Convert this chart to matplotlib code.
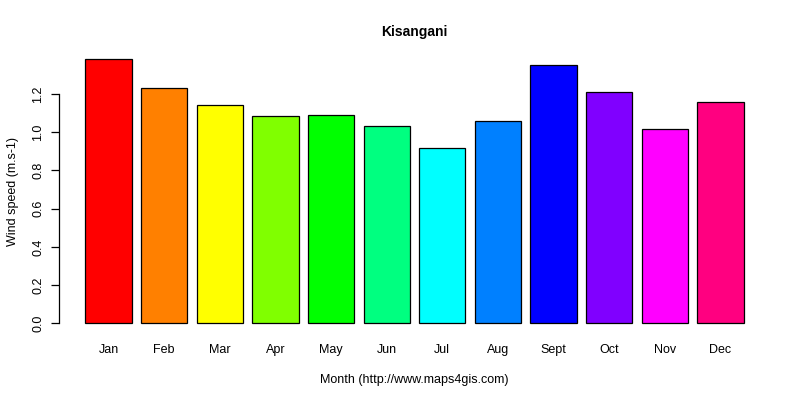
import matplotlib
matplotlib.use("Agg")
import matplotlib.pyplot as plt

months = ["Jan", "Feb", "Mar", "Apr", "May", "Jun", "Jul", "Aug", "Sept", "Oct", "Nov", "Dec"]
wind = [1.381, 1.233, 1.142, 1.085, 1.090, 1.031, 0.916, 1.057, 1.350, 1.209, 1.015, 1.156]
colors = ["#FF0000", "#FF8000", "#FFFF00", "#80FF00", "#00FF00", "#00FF80",
          "#00FFFF", "#0080FF", "#0000FF", "#8000FF", "#FF00FF", "#FF0080"]
yticks = [0.0, 0.2, 0.4, 0.6, 0.8, 1.0, 1.2]
ytick_labels = ["0.0", "0.2", "0.4", "0.6", "0.8", "1.0", "1.2"]

plt.rcParams['font.family'] = ['Liberation Sans', 'DejaVu Sans']

fig = plt.figure(figsize=(8, 4), dpi=100)
ax = fig.add_axes([59/800, (400-333.9)/400, 711/800, (333.9-48.9)/400])

# R barplot geometry: width 1, space 0.2
centers = [0.2 + 0.5 + i * 1.2 for i in range(len(months))]
ax.bar(centers, wind, width=1.0, color=colors, edgecolor="black", linewidth=0.9)

xmin, xmax = 0.2, 0.2 + 1.2 * len(months) - 0.2
ext = 0.04 * (xmax - xmin)
ax.set_xlim(xmin - ext, xmax + ext)
ymax = max(wind)
ax.set_ylim(-0.04 * ymax, ymax * 1.04)

for s in ["top", "right", "bottom"]:
    ax.spines[s].set_visible(False)
ax.spines["left"].set_bounds(0, 1.2)
ax.spines["left"].set_linewidth(0.9)

ax.set_yticks(yticks)
ax.set_yticklabels(ytick_labels, rotation=90, va="center", fontsize=9)
ax.tick_params(axis="y", length=5.8, width=0.9, pad=5)

ax.set_xticks(centers)
ax.set_xticklabels(months, fontsize=9)
ax.tick_params(axis="x", length=0, pad=7.6)

ax.set_xlabel("Month (http://www.maps4gis.com)", fontsize=9, labelpad=12.5)
ax.set_ylabel("Wind speed (m.s-1)", fontsize=9, labelpad=9)
ax.set_title("Kisangani", fontsize=10, fontweight="bold", pad=9.4)

fig.savefig("out.png", dpi=100)
